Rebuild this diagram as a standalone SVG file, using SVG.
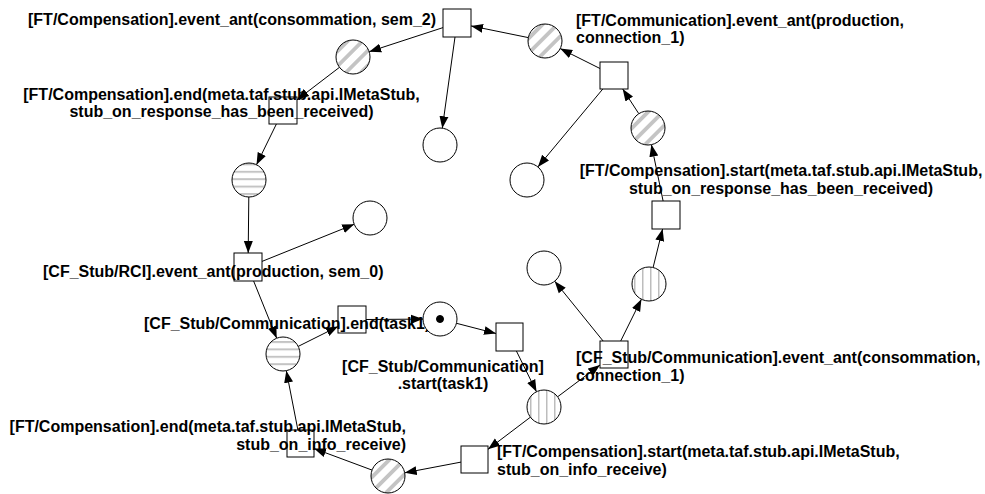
<svg xmlns="http://www.w3.org/2000/svg" width="985" height="494" viewBox="0 0 985 494">
<style>
.t rect{fill:#fff;stroke:#000;stroke-width:1}
.p circle{stroke:#000;stroke-width:1}
.lbl{font-family:"Liberation Sans",Arial,Helvetica,sans-serif;font-weight:bold;font-size:16px;fill:#000}
.m{text-anchor:middle}
.e{text-anchor:end}
#connectors path{fill:none;stroke:#000;stroke-width:1;marker-end:url(#ah)}
</style>
<defs>
<marker id="ah" markerUnits="userSpaceOnUse" markerWidth="13" markerHeight="10" refX="12" refY="5" orient="auto">
<path d="M0,0.5 L12,5 L0,9.5 z" fill="#000"/>
</marker>
<pattern id="diag" patternUnits="userSpaceOnUse" width="10.5" height="10.5" patternTransform="rotate(45)">
<rect width="10.5" height="10.5" fill="#fff"/>
<rect x="0" y="0" width="3.8" height="10.5" fill="#c4c4c4"/>
</pattern>
<pattern id="hstr" patternUnits="userSpaceOnUse" width="10" height="7.4" y="0.6">
<rect width="10" height="7.4" fill="#fff"/>
<rect x="0" y="0" width="10" height="2" fill="#c4c4c4"/>
</pattern>
<pattern id="vstr" patternUnits="userSpaceOnUse" width="8" height="10" x="2">
<rect width="8" height="10" fill="#fff"/>
<rect x="0" y="0" width="1.5" height="10" fill="#bdbdbd"/>
</pattern>
</defs>

<g id="T1" class="t"><rect x="443" y="9" width="28" height="28"/><text class="lbl" x="28" y="25">[FT/Compensation].event_ant(consommation, sem_2)</text></g>
<g id="T2" class="t"><rect x="269" y="97" width="28" height="27"/><text class="lbl m" x="221.5" y="100">[FT/Compensation].end(meta.taf.stub.api.IMetaStub,</text><text class="lbl m" x="221.5" y="117">stub_on_response_has_been_received)</text></g>
<g id="T3" class="t"><rect x="234" y="253" width="28" height="28"/><text class="lbl" x="43" y="277">[CF_Stub/RCI].event_ant(production, sem_0)</text></g>
<g id="T4" class="t"><rect x="338" y="306" width="28" height="27"/><text class="lbl" x="144" y="329">[CF_Stub/Communication].end(task1)</text></g>
<g id="T5" class="t"><rect x="496" y="323" width="27" height="28"/><text class="lbl m" x="443" y="372">[CF_Stub/Communication]</text><text class="lbl m" x="443" y="389">.start(task1)</text></g>
<g id="T6" class="t"><rect x="287" y="430" width="27" height="27"/><text class="lbl e" x="406" y="432">[FT/Compensation].end(meta.taf.stub.api.IMetaStub,</text><text class="lbl e" x="406" y="450">stub_on_info_receive)</text></g>
<g id="T7" class="t"><rect x="461" y="446" width="27" height="27"/><text class="lbl" x="497" y="457">[FT/Compensation].start(meta.taf.stub.api.IMetaStub,</text><text class="lbl" x="497" y="475">stub_on_info_receive)</text></g>
<g id="T8" class="t"><rect x="652" y="201" width="28" height="28"/><text class="lbl m" x="781" y="176">[FT/Compensation].start(meta.taf.stub.api.IMetaStub,</text><text class="lbl m" x="781" y="194">stub_on_response_has_been_received)</text></g>
<g id="T9" class="t"><rect x="600" y="341" width="28" height="27"/><text class="lbl" x="576" y="363">[CF_Stub/Communication].event_ant(consommation,</text><text class="lbl" x="576" y="381">connection_1)</text></g>
<g id="T10" class="t"><rect x="600" y="62" width="28" height="27"/><text class="lbl" x="576" y="26">[FT/Communication].event_ant(production,</text><text class="lbl" x="576" y="43">connection_1)</text></g>

<g id="connectors">
<path d="M600,68.5 L560.2,48.6"/>
<path d="M528.3,37.6 L471,25.9"/>
<path d="M443,27.6 L369.2,51.7"/>
<path d="M455,37 L442.3,128.2"/>
<path d="M339.5,67.3 L297,99.8"/>
<path d="M276.4,124 L256.5,164.7"/>
<path d="M248.8,197 L248.2,253"/>
<path d="M262,261.4 L354.2,224.3"/>
<path d="M253.6,281 L276.7,338.2"/>
<path d="M298.2,346.4 L338,326.5"/>
<path d="M366,319.5 L423,319.1"/>
<path d="M456.5,323.3 L496,333.5"/>
<path d="M516.4,351 L536.5,391.8"/>
<path d="M557.6,396.8 L600,365"/>
<path d="M603.1,341 L554.7,281.2"/>
<path d="M620.7,341 L641.4,299.2"/>
<path d="M653.1,267.5 L662.6,229"/>
<path d="M663.1,201 L651.4,144.6"/>
<path d="M638.8,113.7 L622.7,89"/>
<path d="M602.8,89 L537.9,166.9"/>
<path d="M530.4,417.2 L488,449.3"/>
<path d="M461,462.1 L404.7,472.8"/>
<path d="M372.1,470.1 L314,448.5"/>
<path d="M297.9,430 L286.3,370.7"/>
</g>

<g id="P_topright" class="p"><circle cx="545" cy="41" r="17" fill="url(#diag)"/></g>
<g id="P_top" class="p"><circle cx="353" cy="57" r="17" fill="url(#diag)"/></g>
<g id="P_empty1" class="p"><circle cx="440" cy="145" r="17" fill="#fff"/></g>
<g id="P_h1" class="p"><circle cx="249" cy="180" r="17" fill="url(#hstr)"/></g>
<g id="P_empty2" class="p"><circle cx="370" cy="218" r="17" fill="#fff"/></g>
<g id="P_h2" class="p"><circle cx="283" cy="354" r="17" fill="url(#hstr)"/></g>
<g id="P_token" class="p"><circle cx="440" cy="319" r="17" fill="#fff"/><circle cx="440" cy="319" r="3.5" fill="#000" stroke="none"/></g>
<g id="P_v1" class="p"><circle cx="544" cy="407" r="17" fill="url(#vstr)"/></g>
<g id="P_empty3" class="p"><circle cx="544" cy="268" r="17" fill="#fff"/></g>
<g id="P_v2" class="p"><circle cx="649" cy="284" r="17" fill="url(#vstr)"/></g>
<g id="P_right" class="p"><circle cx="648" cy="128" r="17" fill="url(#diag)"/></g>
<g id="P_empty4" class="p"><circle cx="527" cy="180" r="17" fill="#fff"/></g>
<g id="P_bottom" class="p"><circle cx="388" cy="476" r="17" fill="url(#diag)"/></g>
</svg>
